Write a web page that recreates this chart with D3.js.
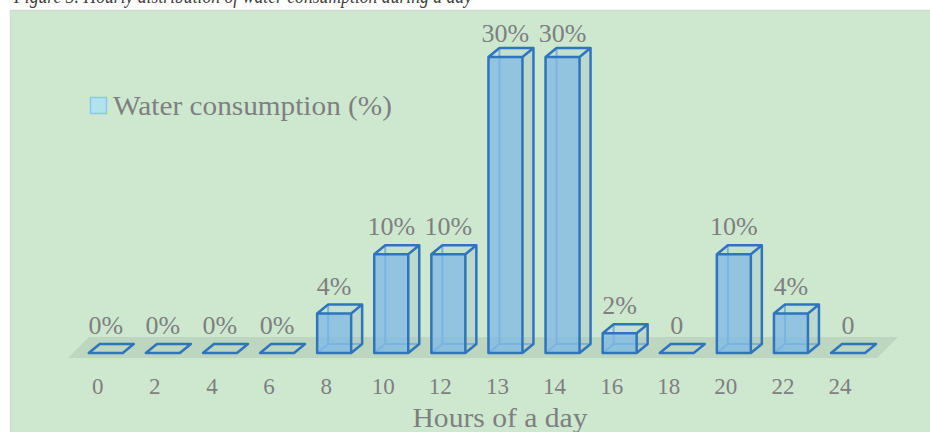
<!DOCTYPE html>
<html>
<head>
<meta charset="utf-8">
<script src="https://cdn.jsdelivr.net/npm/d3@7"></script>
<style>
  html, body { margin: 0; padding: 0; background: #ffffff; }
  svg { display: block; }
</style>
</head>
<body>
<svg id="chart" width="930" height="432"></svg>
<script>
// Hour-of-day categories and share of daily water use (%)
const hours = ["0", "2", "4", "6", "8", "10", "12", "13", "14", "16", "18", "20", "22", "24"];
const consumption = [0, 0, 0, 0, 4, 10, 10, 30, 30, 2, 0, 10, 4, 0];
const valueLabels = ["0%", "0%", "0%", "0%", "4%", "10%", "10%", "30%", "30%", "2%", "0", "10%", "4%", "0"];
const seriesName = "Water consumption (%)";
const axisTitle = "Hours of a day";
const captionText = "Figure 3. Hourly distribution of water consumption during a day";

const svg = d3.select("#chart");
const W = 930, H = 432;
const font = "'Liberation Serif', 'Times New Roman', serif";
const textGrey = "#7f7f7f";

// caption above the frame (runs off the top of the page)
svg.append("text")
  .attr("x", 14).attr("y", 3)
  .attr("font-family", font).attr("font-style", "italic")
  .attr("font-size", 20).attr("fill", "#404040")
  .attr("textLength", 458).attr("lengthAdjust", "spacingAndGlyphs")
  .text(captionText);

// chart frame
svg.append("rect")
  .attr("x", 10.5).attr("y", 10.5)
  .attr("width", W).attr("height", H)
  .attr("fill", "#cde8cf").attr("stroke", "#d6d6d6").attr("stroke-width", 1.5);

// scales
const x = d3.scaleBand().domain(hours).range([69.2, 868.6]).padding(0);
const y = d3.scaleLinear().domain([0, 30]).range([353, 57]);

// 3D projection of the boxes
const depthX = 11, depthY = -9;
const frontShift = 8, frontW = 34;

// floor slab
const floorPts = [[68, 358], [89, 337], [898, 337], [877, 358]];
svg.append("polygon")
  .attr("points", floorPts.map(p => p.join(",")).join(" "))
  .attr("fill", "#bdd6bf");

const g = svg.append("g");
const edge = "#2f74bc", innerEdge = "#5b9ad8";

hours.forEach((h, i) => {
  const cx = x(h) + x.bandwidth() / 2 + frontShift;
  const l = cx - frontW / 2, r = cx + frontW / 2;
  const b = y(0), t = y(consumption[i]);
  const bl = l + depthX, br = r + depthX, bb = b + depthY, bt = t + depthY;
  const bar = g.append("g");
  const poly = (pts) => pts.map(p => p.join(",")).join(" ");

  if (consumption[i] > 0) {
    // hidden (back) edges seen through the translucent box
    bar.append("path")
      .attr("d", `M${l},${b}L${bl},${bb}L${br},${bb}M${bl},${bb}L${bl},${bt}`)
      .attr("fill", "none").attr("stroke", innerEdge).attr("stroke-width", 2)
      .attr("stroke-opacity", 0.85);
    // right side face
    bar.append("polygon")
      .attr("points", poly([[r, b], [br, bb], [br, bt], [r, t]]))
      .attr("fill", "#a3c6c8").attr("fill-opacity", 0.4);
    // top face
    bar.append("polygon")
      .attr("points", poly([[l, t], [bl, bt], [br, bt], [r, t]]))
      .attr("fill", "#a9cfd6").attr("fill-opacity", 0.3);
    // front face
    bar.append("rect")
      .attr("x", l).attr("y", t).attr("width", r - l).attr("height", b - t)
      .attr("fill", "#7db8e6").attr("fill-opacity", 0.75);
    // visible edges
    bar.append("path")
      .attr("d", `M${l},${b}L${l},${t}L${r},${t}L${r},${b}Z` +
                 `M${l},${t}L${bl},${bt}L${br},${bt}L${r},${t}` +
                 `M${br},${bt}L${br},${bb}L${r},${b}`)
      .attr("fill", "none").attr("stroke", edge).attr("stroke-width", 2.5)
      .attr("stroke-linejoin", "round");
  } else {
    // zero value: a flat outline lying on the floor
    bar.append("polygon")
      .attr("points", poly([[l, b], [bl, bb], [br, bb], [r, b]]))
      .attr("fill", "none").attr("stroke", edge).attr("stroke-width", 2.5)
      .attr("stroke-linejoin", "round");
  }

  // value label
  svg.append("text")
    .attr("x", cx).attr("y", Math.max(bt - 10, 42))
    .attr("text-anchor", "middle")
    .attr("font-family", font).attr("font-size", 26).attr("fill", textGrey)
    .text(valueLabels[i]);
});

// category axis (labels only)
const axis = svg.append("g")
  .attr("transform", `translate(0,${372})`)
  .call(d3.axisBottom(x).tickSize(0).tickPadding(6));
axis.select(".domain").remove();
axis.selectAll("text")
  .attr("font-family", font).attr("font-size", 23).attr("fill", textGrey);

// axis title
svg.append("text")
  .attr("x", 500).attr("y", 427)
  .attr("text-anchor", "middle")
  .attr("font-family", font).attr("font-size", 28).attr("fill", textGrey)
  .attr("textLength", 175).attr("lengthAdjust", "spacingAndGlyphs")
  .text(axisTitle);

// legend
svg.append("rect")
  .attr("x", 90.5).attr("y", 97.5).attr("width", 16).attr("height", 16)
  .attr("fill", "#b2e2ea").attr("stroke", "#8cc6f2").attr("stroke-width", 1.5);
svg.append("text")
  .attr("x", 113).attr("y", 115)
  .attr("font-family", font).attr("font-size", 28).attr("fill", textGrey)
  .attr("textLength", 279).attr("lengthAdjust", "spacingAndGlyphs")
  .text(seriesName);
</script>
</body>
</html>
